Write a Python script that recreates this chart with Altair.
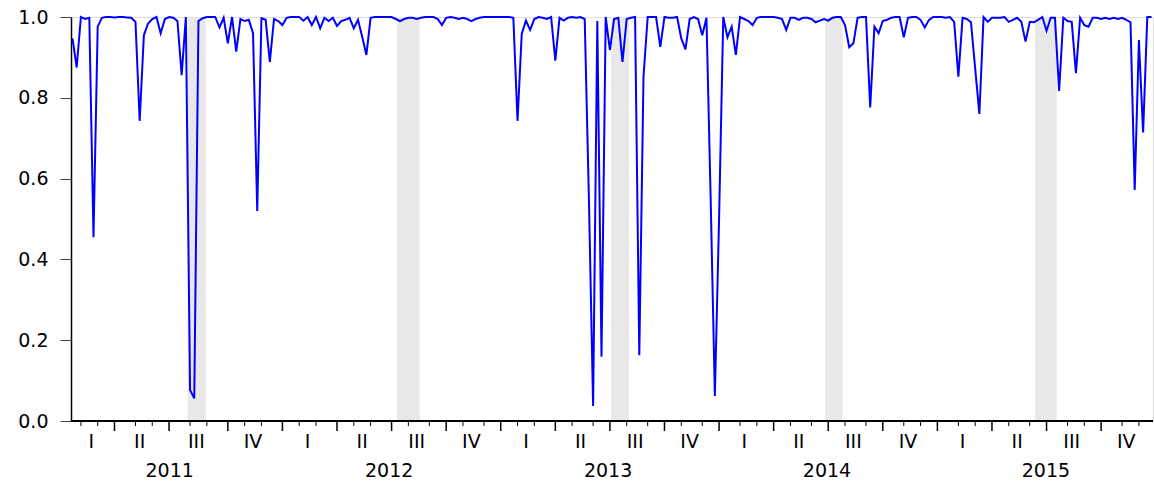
import altair as alt
import pandas as pd

START = "2011-01-21"

V2011 = [0.947, 0.875, 1.0, 0.995, 0.998, 0.455, 0.976, 0.998, 1.0, 1.0,
         0.999, 1.0, 1.0, 0.999, 0.998, 0.988, 0.743, 0.955, 0.984, 0.995,
         1.0, 0.96, 0.995, 1.0, 0.998, 0.99, 0.856, 1.0, 0.077, 0.056,
         0.99, 0.997, 1.0, 1.0, 1.0, 0.974, 0.998, 0.935, 1.0, 0.914,
         0.995, 0.99, 0.993, 0.96, 0.52, 0.997, 0.993, 0.889, 0.995, 0.99]

V2012 = [0.98, 0.998, 1.0, 1.0, 1.0, 0.991, 1.0, 0.98, 1.0, 0.972,
         0.998, 0.99, 0.998, 0.978, 0.99, 0.993, 0.998, 0.972, 0.993, 0.951,
         0.906, 0.998, 1.0, 1.0, 1.0, 1.0, 1.0, 0.995, 0.99, 0.995,
         0.998, 0.998, 0.995, 0.998, 1.0, 1.0, 1.0, 0.995, 0.98, 0.998,
         1.0, 0.998, 0.995, 0.998, 0.995, 0.99, 0.995, 0.998, 1.0, 1.0,
         1.0, 1.0]

V2013 = [1.0, 1.0, 1.0, 0.998, 0.743, 0.958, 0.991, 0.968, 0.995, 1.0,
         0.998, 0.995, 1.0, 0.892, 0.998, 0.991, 0.998, 1.0, 0.998, 1.0,
         0.995, 0.55, 0.037, 0.99, 0.159, 1.0, 0.918, 0.995, 0.998, 0.889,
         0.995, 0.998, 1.0, 0.163, 0.852, 1.0, 1.0, 1.0, 0.926, 1.0,
         0.998, 0.998, 1.0, 0.947, 0.92, 0.995, 1.0, 0.995, 0.955, 0.998,
         0.55, 0.062]

V2014 = [0.5, 1.0, 0.95, 0.976, 0.906, 1.0, 0.995, 0.99, 0.98, 0.998,
         1.0, 1.0, 1.0, 1.0, 0.998, 0.995, 0.968, 0.998, 0.998, 0.993,
         0.998, 0.998, 0.995, 0.987, 0.991, 0.995, 0.991, 0.998, 1.0, 1.0,
         0.98, 0.925, 0.935, 0.998, 1.0, 1.0, 0.776, 0.976, 0.96, 0.99,
         0.993, 0.998, 1.0, 1.0, 0.95, 0.998, 1.0, 1.0, 0.993, 0.974,
         0.993, 1.0]

V2015 = [1.0, 1.0, 0.998, 1.0, 0.988, 0.852, 0.998, 0.995, 0.987, 0.873,
         0.76, 1.0, 0.988, 0.998, 0.998, 0.998, 1.0, 0.988, 0.993, 0.998,
         0.988, 0.939, 0.988, 0.987, 0.993, 1.0, 0.966, 0.998, 0.998, 0.817,
         0.998, 0.99, 0.988, 0.861, 0.998, 0.98, 0.976, 0.998, 0.998, 0.995,
         0.998, 0.995, 0.998, 0.995, 0.998, 0.993, 0.987, 0.572, 0.943, 0.714,
         1.0, 1.0]

BAND_START = ["2011-08-01", "2012-07-15", "2013-07-07", "2014-06-29", "2015-06-14"]
BAND_END = ["2011-08-31", "2012-08-22", "2013-08-06", "2014-07-28", "2015-07-20"]

QUARTER_NAMES = ["I", "II", "III", "IV"]
YEARS = [2011, 2012, 2013, 2014, 2015]
Y_TICKS = [0.0, 0.2, 0.4, 0.6, 0.8, 1.0]

# ---- tables ----
values = V2011 + V2012 + V2013 + V2014 + V2015
dates = pd.date_range(START, periods=len(values), freq="7D")
series = pd.DataFrame({"date": dates, "value": values})

bands = pd.DataFrame({"start": pd.to_datetime(BAND_START), "end": pd.to_datetime(BAND_END)})

# month ticks at the first observation of each month (EViews style)
month_first = series.groupby(series["date"].dt.to_period("M"))["date"].min().iloc[1:]
ticks = pd.DataFrame({"date": month_first.values})
ticks["long"] = ticks["date"].dt.month.isin([1, 4, 7, 10])

# quarter labels centred on the observations of each quarter
qgrp = series.groupby(series["date"].dt.to_period("Q"))["date"]
qpos = qgrp.apply(lambda s: s.min() + (s.max() - s.min()) / 2)
qlabels = pd.DataFrame({
    "date": qpos.values,
    "label": [QUARTER_NAMES[p.quarter - 1] for p in qpos.index],
})

ylabels = pd.DataFrame({
    "date": [pd.Timestamp(year=y, month=7, day=2) for y in YEARS],
    "label": [str(y) for y in YEARS],
})

W, H = 1082, 404
FONT = "DejaVu Sans"

xscale = alt.Scale(domain=[alt.DateTime(year=2011, month=1, date=18, hours=12),
                           alt.DateTime(year=2015, month=12, date=27, hours=12)])
yscale = alt.Scale(domain=[0, 1], nice=False)

band_layer = alt.Chart(bands).mark_rect(color="#e8e8e8").encode(
    x=alt.X("start:T", scale=xscale, axis=None),
    x2="end:T",
)

line_layer = alt.Chart(series).mark_line(color="#0000ff", strokeWidth=2).encode(
    x=alt.X("date:T", scale=xscale, axis=None),
    y=alt.Y("value:Q", scale=yscale,
            axis=alt.Axis(values=Y_TICKS, format=".1f", title=None, grid=False,
                          tickSize=11, tickColor="#444", tickWidth=1,
                          labelFont=FONT, labelFontSize=19, labelColor="black",
                          labelPadding=12, domainColor="black", domainWidth=1.5)),
)

short_ticks = alt.Chart(ticks).transform_filter("!datum.long").mark_rule(
    color="black", strokeWidth=1).encode(
    x=alt.X("date:T", scale=xscale, axis=None),
    y=alt.value(H), y2=alt.value(H + 5),
)

long_ticks = alt.Chart(ticks).transform_filter("datum.long").mark_rule(
    color="black", strokeWidth=1.5).encode(
    x=alt.X("date:T", scale=xscale, axis=None),
    y=alt.value(H), y2=alt.value(H + 10),
)

bottom_line = alt.Chart(series).mark_rule(color="black", strokeWidth=1.5).encode(
    x=alt.value(0), x2=alt.value(W), y=alt.value(H),
)

q_text = alt.Chart(qlabels).mark_text(
    font=FONT, fontSize=19, color="black", baseline="middle", align="center").encode(
    x=alt.X("date:T", scale=xscale, axis=None),
    y=alt.value(H + 21),
    text="label:N",
)

y_text = alt.Chart(ylabels).mark_text(
    font=FONT, fontSize=19, color="black", baseline="middle", align="center").encode(
    x=alt.X("date:T", scale=xscale, axis=None),
    y=alt.value(H + 50),
    text="label:N",
)

chart = alt.layer(
    band_layer, line_layer, bottom_line, short_ticks, long_ticks, q_text, y_text
).properties(
    width=W, height=H,
    autosize=alt.AutoSizeParams(type="none"),
    padding={"left": 71, "top": 17, "right": 1, "bottom": 66},
).configure_view(
    stroke="black", strokeWidth=1,
).configure(background="white")

chart.save("out.html", embed_options={"renderer": "svg", "actions": False})
